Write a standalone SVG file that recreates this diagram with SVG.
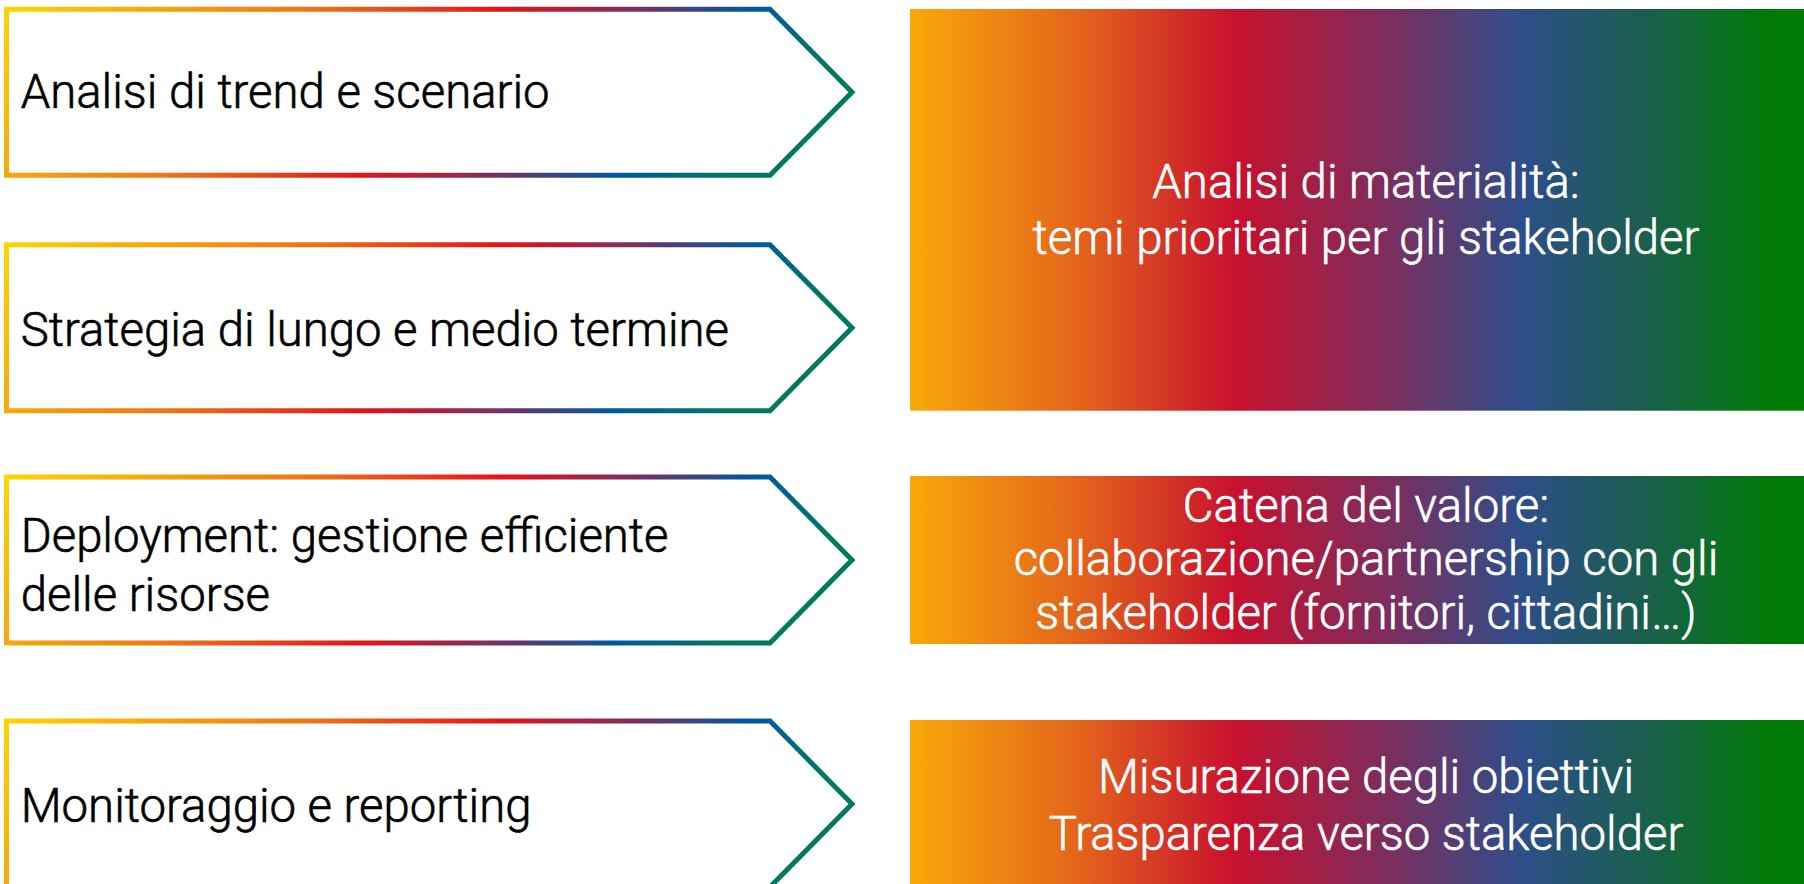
<svg xmlns="http://www.w3.org/2000/svg" width="1804" height="884" viewBox="0 0 1804 884">
<defs>
<linearGradient id="gArrow" x1="0" y1="0" x2="1" y2="0.166">
<stop offset="0" stop-color="#FFD400"/>
<stop offset="0.18" stop-color="#F6A30C"/>
<stop offset="0.35" stop-color="#EE7513"/>
<stop offset="0.57" stop-color="#E3131A"/>
<stop offset="0.72" stop-color="#7C2F5E"/>
<stop offset="0.86" stop-color="#0058A0"/>
<stop offset="1" stop-color="#007A5E"/>
</linearGradient>
<linearGradient id="gBox" x1="0" y1="0" x2="1" y2="0">
<stop offset="0" stop-color="#F9A90A"/>
<stop offset="0.18" stop-color="#E4661A"/>
<stop offset="0.357" stop-color="#C8102E"/>
<stop offset="0.52" stop-color="#7E2D5C"/>
<stop offset="0.672" stop-color="#2D4E8A"/>
<stop offset="0.8" stop-color="#1B5E50"/>
<stop offset="0.946" stop-color="#007B05"/>
<stop offset="1" stop-color="#007B05"/>
</linearGradient>
</defs>
<style>
.arrow{fill:#FFFFFF;stroke:url(#gArrow);stroke-width:5;stroke-linejoin:miter}
.box{fill:url(#gBox)}
.lt{font-family:Roboto,"Liberation Sans",sans-serif;font-weight:300;font-size:47.3px;fill:#000000;stroke:#000000;stroke-width:0.6px}
.rt{font-family:Roboto,"Liberation Sans",sans-serif;font-weight:300;font-size:47.3px;fill:#FFFFFF;stroke:#FFFFFF;stroke-width:0.6px;text-anchor:middle}
</style>
<rect width="1804" height="884" fill="#FFFFFF"/>
<g id="connectors"/>
<g id="step1">
<path class="arrow" d="M6.5,9.2 H770 L852,92.2 L770,175.2 H6.5 Z"/>
<text class="lt" x="20.7" y="108">Analisi di trend e scenario</text>
</g>
<g id="step2">
<path class="arrow" d="M6.5,244.8 H770 L852,327.8 L770,410.8 H6.5 Z"/>
<text class="lt" x="20.7" y="346">Strategia di lungo e medio termine</text>
</g>
<g id="step3">
<path class="arrow" d="M6.5,477 H770 L852,560 L770,643 H6.5 Z"/>
<text class="lt" x="20.7" y="552">Deployment: gestione efficiente</text>
<text class="lt" x="20.7" y="610.5">delle risorse</text>
</g>
<g id="step4">
<path class="arrow" d="M6.5,721 H770 L852,804 L770,887 H6.5 Z"/>
<text class="lt" x="20.7" y="821.5">Monitoraggio e reporting</text>
</g>
<g id="box1">
<rect class="box" x="910" y="9" width="912" height="401.7"/>
<text class="rt" x="1366" y="197.5">Analisi di materialità:</text>
<text class="rt" x="1366" y="254">temi prioritari per gli stakeholder</text>
</g>
<g id="box2">
<rect class="box" x="910" y="476" width="912" height="168"/>
<text class="rt" x="1366" y="521.8">Catena del valore:</text>
<text class="rt" x="1366" y="574.5">collaborazione/partnership con gli</text>
<text class="rt" x="1366" y="628.6">stakeholder (fornitori, cittadini…)</text>
</g>
<g id="box3">
<rect class="box" x="910" y="720" width="912" height="170"/>
<text class="rt" x="1366" y="793">Misurazione degli obiettivi</text>
<text class="rt" x="1366" y="850">Trasparenza verso stakeholder</text>
</g>
</svg>
